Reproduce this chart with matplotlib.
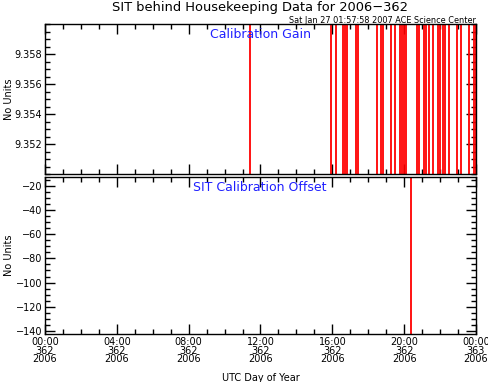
import matplotlib
matplotlib.use("Agg")
import matplotlib.pyplot as plt
from matplotlib.ticker import MultipleLocator, FixedLocator

# Data (hours of day 362, 2006)
gain_times = [11.41, 15.91, 16.20, 16.59, 16.70, 16.82, 17.32, 17.43, 18.47,
              18.71, 18.82, 19.25, 19.49, 19.77, 19.88, 19.99, 20.10, 20.71,
              20.82, 21.10, 21.21, 21.38, 21.59, 21.88, 21.99, 22.16, 22.27,
              22.50, 22.92, 23.16, 23.61, 23.89, 24.0]
gain_low = 9.340
gain_high = 9.370
offset_times = [20.38]
offset_low = -150.0
offset_high = 0.0

xtick_hours = [0, 4, 8, 12, 16, 20, 24]
xtick_labels = ["00:00\n362\n2006", "04:00\n362\n2006", "08:00\n362\n2006",
                "12:00\n362\n2006", "16:00\n362\n2006", "20:00\n362\n2006",
                "00:00\n363\n2006"]
gain_ticks = [9.352, 9.354, 9.356, 9.358]
offset_ticks = [-140, -120, -100, -80, -60, -40, -20]

W, H = 489, 382
fig = plt.figure(figsize=(W / 100, H / 100), dpi=100)
plt.rcParams['font.family'] = ['DejaVu Sans']

def ax_rect(x0, y0, x1, y1):
    return [x0 / W, 1 - y1 / H, (x1 - x0) / W, (y1 - y0) / H]

ax1 = fig.add_axes(ax_rect(45, 24, 476, 174))
ax2 = fig.add_axes(ax_rect(45, 177, 476, 334))

red = '#ff0000'
for t in gain_times:
    ax1.plot([t, t], [gain_low, gain_high], color=red, lw=1.3)
for t in offset_times:
    ax2.plot([t, t], [offset_low, offset_high], color=red, lw=1.3)

ax1.set_ylim(9.350, 9.36003)
ax2.set_ylim(-142.5, -12.8)
for ax in (ax1, ax2):
    ax.set_xlim(0, 24)
    ax.xaxis.set_major_locator(FixedLocator(xtick_hours))
    ax.xaxis.set_minor_locator(MultipleLocator(1))
    ax.tick_params(axis='both', which='major', direction='in', length=7,
                   width=1, top=True, right=True, labelsize=7, pad=2)
    ax.tick_params(axis='both', which='minor', direction='in', length=3.5,
                   width=1, top=True, right=True)
    for s in ax.spines.values():
        s.set_linewidth(1.0)
    ax.set_ylabel("No Units", fontsize=7)
    ax.yaxis.set_label_coords(-0.072, 0.5)

ax1.yaxis.set_major_locator(FixedLocator(gain_ticks))
ax1.yaxis.set_minor_locator(MultipleLocator(0.0005))
ax1.set_yticklabels(["%.3f" % v for v in gain_ticks])
ax1.set_xticklabels([])

ax2.yaxis.set_major_locator(FixedLocator(offset_ticks))
ax2.yaxis.set_minor_locator(MultipleLocator(5))
ax2.set_yticklabels(["\u2212%d" % abs(v) for v in offset_ticks])
ax2.set_xticklabels(xtick_labels, linespacing=0.85)
ax2.set_xlabel("UTC Day of Year", fontsize=7, labelpad=6)

ax1.text(0.5, 0.93, "Calibration Gain", transform=ax1.transAxes, color='#2020ff',
         fontsize=9, ha='center', va='center')
ax2.text(0.498, 0.93, "SIT Calibration Offset", transform=ax2.transAxes,
         color='#2020ff', fontsize=9, ha='center', va='center')

fig.text(260 / W, 1 - 7 / H, "SIT behind Housekeeping Data for 2006\u2212362",
         ha='center', va='center', fontsize=9.4)
fig.text(476 / W, 1 - 20.5 / H, "Sat Jan 27 01:57:58 2007 ACE Science Center",
         ha='right', va='center', fontsize=5.9)

fig.savefig("out.png", dpi=100)
